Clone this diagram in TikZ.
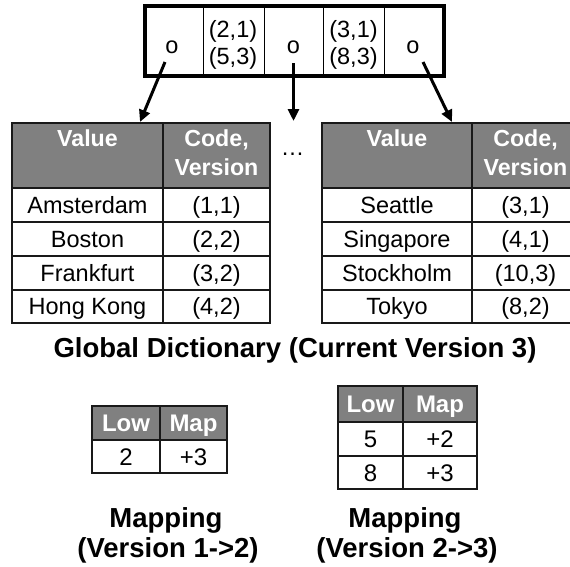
\documentclass[tikz,border=0pt]{standalone}
\usepackage{fontspec}
\setmainfont{Liberation Sans}
\usetikzlibrary{arrows.meta}
\definecolor{hdrgray}{RGB}{128,128,128}
\definecolor{linec}{RGB}{25,25,25}
\newcommand\tcell[7][bodycell]{\node[#1, minimum width={#5-#3}, minimum height={#6-#4}] (#2) at ({(#3+#5)/2},{(#4+#6)/2}) {#7};}
\begin{document}
\begin{tikzpicture}[x=1pt,y=-1pt,
  basecell/.style={draw=linec, line width=1.2pt, inner sep=0pt, outer sep=0pt},
  bodycell/.style={basecell, fill=white, text height=16.8pt, text depth=0pt, font=\fontsize{23.5}{28}\selectfont},
  mapcell/.style={basecell, fill=white, text height=17.2pt, text depth=0pt, font=\fontsize{24}{28}\selectfont},
  hdrcell/.style={basecell, fill=hdrgray},
  maphdr/.style={basecell, fill=hdrgray, text=white, text height=17.2pt, text depth=0pt, font=\bfseries\fontsize{24}{28}\selectfont},
  hdrtext/.style={anchor=base, inner sep=0pt, text=white, font=\bfseries\fontsize{23.2}{27}\selectfont},
  boxcell/.style={draw=black, line width=1pt, inner sep=0pt, outer sep=0pt},
  boxtext/.style={anchor=base, inner sep=0pt, font=\fontsize{23.5}{27}\selectfont},
  lbl/.style={anchor=base, inner sep=0pt, font=\bfseries\fontsize{27.5}{32}\selectfont},
  arr/.style={line width=3pt, -{Triangle[length=12pt,width=11pt]}}]
\useasboundingbox (0,0) rectangle (570,566);
\clip (0,0) rectangle (570,566);
% top box
\tcell[boxcell]{b1}{145}{6}{203}{76}{}
\tcell[boxcell]{b2}{203}{6}{264}{76}{}
\tcell[boxcell]{b3}{264}{6}{323}{76}{}
\tcell[boxcell]{b4}{323}{6}{384}{76}{}
\tcell[boxcell]{b5}{384}{6}{443.5}{76}{}
\draw[line width=4pt] (b1.north west) rectangle (b5.south east);
\node[boxtext] (o1) at (172,53) {o};
\node[boxtext] (t21) at (233,37) {(2,1)};
\node[boxtext] (t53) at (233,64) {(5,3)};
\node[boxtext] (o2) at (293.5,53) {o};
\node[boxtext] (t31) at (353.5,37) {(3,1)};
\node[boxtext] (t83) at (353.5,64) {(8,3)};
\node[boxtext] (o3) at (413,53) {o};
% left table
\tcell[hdrcell]{lh1}{12}{123}{163}{188}{}
\tcell[hdrcell]{lh2}{163}{123}{270}{188}{}
\node[hdrtext] (lhv) at (87.5,146) {Value};
\node[hdrtext] (lhc) at (216.5,146) {Code,};
\node[hdrtext] (lhw) at (216.5,175) {Version};
\tcell{l11}{12}{188}{163}{222}{Amsterdam}
\tcell{l12}{163}{188}{270}{222}{(1,1)}
\tcell{l21}{12}{222}{163}{256}{Boston}
\tcell{l22}{163}{222}{270}{256}{(2,2)}
\tcell{l31}{12}{256}{163}{290}{Frankfurt}
\tcell{l32}{163}{256}{270}{290}{(3,2)}
\tcell{l41}{12}{290}{163}{323}{Hong Kong}
\tcell{l42}{163}{290}{270}{323}{(4,2)}
% right table
\tcell[hdrcell]{rh1}{322}{123}{472}{188}{}
\tcell[hdrcell]{rh2}{472}{123}{579}{188}{}
\node[hdrtext] (rhv) at (397,146) {Value};
\node[hdrtext] (rhc) at (525.5,146) {Code,};
\node[hdrtext] (rhw) at (525.5,175) {Version};
\tcell{r11}{322}{188}{472}{222}{Seattle}
\tcell{r12}{472}{188}{579}{222}{(3,1)}
\tcell{r21}{322}{222}{472}{256}{Singapore}
\tcell{r22}{472}{222}{579}{256}{(4,1)}
\tcell{r31}{322}{256}{472}{290}{Stockholm}
\tcell{r32}{472}{256}{579}{290}{(10,3)}
\tcell{r41}{322}{290}{472}{323}{Tokyo}
\tcell{r42}{472}{290}{579}{323}{(8,2)}
% ellipsis
\node[boxtext] (dots) at (292.5,155) {\dots};
% arrows
\coordinate (a1s) at (165,62);
\coordinate (a1e) at (140,122);
\coordinate (a2s) at (293.5,63);
\coordinate (a2e) at (293.5,121);
\coordinate (a3s) at (423,62);
\coordinate (a3e) at (452,122);
\draw[arr] (a1s) -- (a1e);
\draw[arr] (a2s) -- (a2e);
\draw[arr] (a3s) -- (a3e);
% caption
\node[lbl] (glob) at (295,357) {Global Dictionary (Current Version 3)};
% mapping 1
\tcell[maphdr]{m1h1}{92}{406}{160}{440}{Low}
\tcell[maphdr]{m1h2}{160}{406}{227}{440}{Map}
\tcell[mapcell]{m1a}{92}{440}{160}{473}{2}
\tcell[mapcell]{m1b}{160}{440}{227}{473}{+3}
% mapping 2
\tcell[maphdr]{m2h1}{338}{386}{403}{422}{Low}
\tcell[maphdr]{m2h2}{403}{386}{477}{422}{Map}
\tcell[mapcell]{m2a}{338}{422}{403}{456}{5}
\tcell[mapcell]{m2b}{403}{422}{477}{456}{+2}
\tcell[mapcell]{m2c}{338}{456}{403}{489}{8}
\tcell[mapcell]{m2d}{403}{456}{477}{489}{+3}
% mapping captions
\node[lbl] (m1l1) at (166,527) {Mapping};
\node[lbl] (m1l2) at (168,557) {(Version 1->2)};
\node[lbl] (m2l1) at (405,527) {Mapping};
\node[lbl] (m2l2) at (407,557) {(Version 2->3)};
\end{tikzpicture}
\end{document}
